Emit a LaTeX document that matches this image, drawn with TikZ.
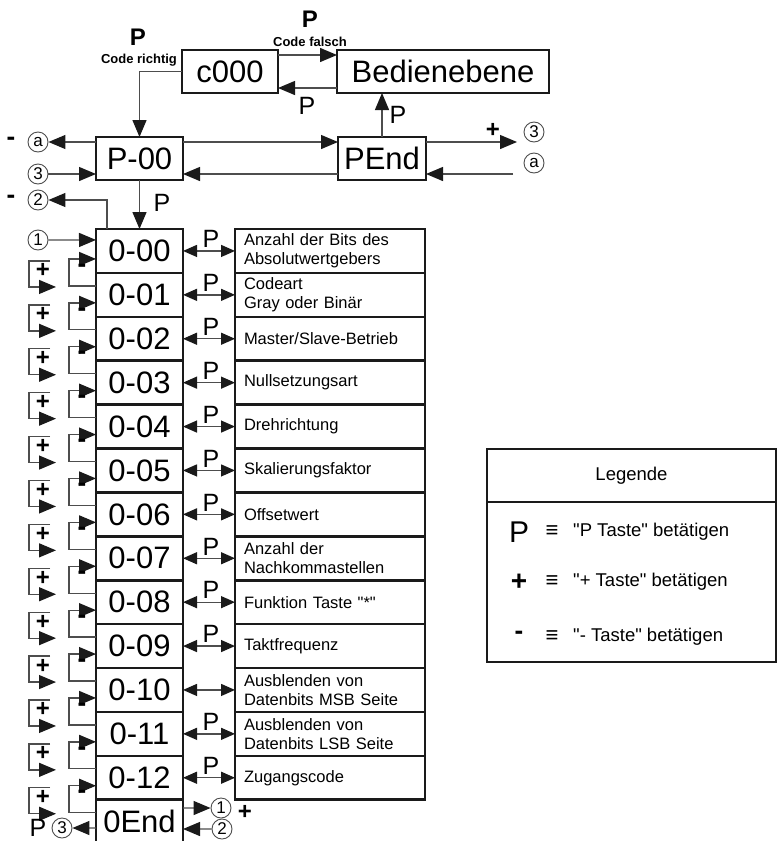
\documentclass[tikz,border=0pt]{standalone}
\usepackage{fontspec}
\setmainfont{Liberation Sans}[Ligatures=TeXOff]
\usetikzlibrary{arrows.meta, positioning, calc}
\definecolor{cline}{HTML}{4D4D4D}
\definecolor{cbox}{HTML}{1A1A1A}
\newcommand{\fsz}[2]{\fontsize{#1}{#2}\selectfont}
\tikzset{
  every picture/.style={x=1pt, y=-1pt},
  box/.style={draw=cbox, line width=2.6pt, minimum height=43pt, inner sep=0pt, outer sep=0pt, font=\fsz{31}{36}},
  item/.style={box, minimum width=87pt, minimum height=43.9pt},
  desc/.style={draw=cbox, line width=2.6pt, minimum width=190pt, minimum height=43.9pt, text width=172pt, align=left, inner sep=0pt, outer sep=0pt, font=\fsz{16.5}{19}},
  conn/.style={draw=cline, line width=1.3pt},
  arr/.style={conn, -{Triangle[length=17pt, width=14pt, color=cbox]}},
  dbl/.style={conn, {Triangle[length=14pt, width=12pt, color=cbox]}-{Triangle[length=14pt, width=12pt, color=cbox]}},
  ring/.style={circle, draw=cline, line width=0.9pt, minimum size=20pt, inner sep=0pt, font=\fsz{17}{20}},
  plab/.style={inner sep=0pt, font=\fsz{25}{30}},
  plabb/.style={inner sep=0pt, font=\bfseries\fsz{24}{28}},
  codelab/.style={inner sep=0pt, font=\bfseries\fsz{13}{15}},
  pmsign/.style={inner sep=0pt, font=\bfseries\fsz{24}{28}},
  minussign/.style={inner sep=0pt, font=\bfseries\fsz{26}{30}},
  legtext/.style={inner sep=0pt, anchor=west, font=\fsz{18.5}{22}},
}

\begin{document}
\begin{tikzpicture}
  \useasboundingbox (0,0) rectangle (777,841);
  % top level
  \node[box, minimum width=96pt] (code) at (230,71.5) {c000};
  \node[box, minimum width=212pt] (bed) at (443,71.5) {Bedienebene};
  \node[box, minimum width=87pt] (p00) at (139.5,158.5) {P-00};
  \node[box, minimum width=88pt] (pend) at (382,158.5) {PEnd};
  \draw[arr] ([yshift=16.5pt]code.east) -- ([yshift=16.5pt]bed.west);
  \draw[arr] ([yshift=-16.5pt]bed.west) -- ([yshift=-16.5pt]code.east);
  \draw[arr] (code.west) -| (p00.north);
  \draw[arr] (pend.north) -- (pend.north |- bed.south);
  \draw[arr] ([yshift=16.5pt]p00.east) -- ([yshift=16.5pt]pend.west);
  \draw[arr] ([yshift=-15.5pt]pend.west) -- ([yshift=-15.5pt]p00.east);
  \node[plabb] at (138,37) {P};
  \node[codelab] at (139,60) {Code richtig};
  \node[plabb] at (310,19) {P};
  \node[codelab] at (310,42) {Code falsch};
  \node[plab] at (307,106) {P};
  \node[plab] at (398,115) {P};
  \node[plab] at (162,203) {P};
  % jumps out of and into the top level
  \node[ring] (aL) at (38,142) {a};
  \node[ring] (c3L) at (38,174) {3};
  \node[ring] (c2L) at (38,200) {2};
  \node[ring] (c1L) at (38,240) {1};
  \node[ring] (c3R) at (534,132) {3};
  \node[ring] (aR) at (534,163) {a};
  \coordinate (plusend) at (517,142);
  \coordinate (astart) at (513,174);
  \node[minussign] at (11,141) {-};
  \node[minussign] at (11,199) {-};
  \node[pmsign] at (493,130) {+};
  \draw[arr] ([yshift=16.5pt]p00.west) -- (aL);
  \draw[arr] (c3L) -- ([yshift=-15.5pt]p00.west);
  \draw[arr] ([yshift=16.5pt]pend.east) -- (plusend);
  \draw[arr] (astart) -- ([yshift=-15.5pt]pend.east);
  % parameter list
  \foreach \t [count=\i from 0] in {0-00,0-01,0-02,0-03,0-04,0-05,0-06,0-07,0-08,0-09,0-10,0-11,0-12,0End}
    \node[item] (r\i) at (139.5, 250.95+43.9*\i) {\t};
  \foreach \t [count=\i from 0] in {{Anzahl der Bits des\\Absolutwertgebers}, {Codeart\\Gray oder Binär}, Master/Slave-Betrieb, Nullsetzungsart, Drehrichtung, Skalierungsfaktor, Offsetwert, {Anzahl der\\Nachkommastellen}, Funktion Taste "*", Taktfrequenz, {Ausblenden von\\Datenbits MSB Seite}, {Ausblenden von\\Datenbits LSB Seite}, Zugangscode}
    \node[desc] (d\i) at (330, 250.95+43.9*\i) {\t};
  \foreach \i in {0,...,12} \draw[dbl] (r\i) -- (d\i);
  \foreach \i in {0,1,2,3,4,5,6,7,8,9,11,12}
    \path (r\i.east) -- (d\i.west) node[plab, midway, above=3pt, xshift=2pt] {P};
  \draw[arr] (p00.south) -- (r0.north);
  \draw[arr] ([xshift=-32.5pt]r0.north) |- (c2L);
  \draw[arr] (c1L) -- ([yshift=11pt]r0.west);
  % + and - keys
  \foreach \i [evaluate=\i as \n using int(\i+1)] in {0,...,12} {
    \draw[arr] ([yshift=9pt]r\n.west) -- ++(-27,0) |- ([yshift=-8pt]r\i.west);
    \draw[arr] ([xshift=-46pt, yshift=-10pt]r\i.west) -- ++(-21,0) |- ([xshift=-40pt, yshift=-36pt]r\i.west);
    \node[pmsign] at ([xshift=-53pt, yshift=-20pt]r\i.west) {+};
    \node[minussign] at ([xshift=-14pt, yshift=-17pt]r\i.west) {-};
  }
  % end of the list
  \node[plab] at (38,828) {P};
  \node[ring] (c3B) at (62,828) {3};
  \node[ring] (c1B) at (221,808) {1};
  \node[ring] (c2B) at (222,829) {2};
  \node[pmsign] at (245,812) {+};
  \draw[arr] ([yshift=-6.35pt]r13.west) -- (c3B);
  \draw[arr] ([yshift=13.65pt]r13.east) -- (c1B);
  \draw[arr] (c2B) -- ([yshift=-7.35pt]r13.east);
  % legend
  \node[draw=cbox, line width=2.3pt, minimum width=289pt, minimum height=53pt, anchor=north west, inner sep=0pt, outer sep=0pt, font=\fsz{18.5}{22}] (leghead) at (487,449) {Legende};
  \node[draw=cbox, line width=2.3pt, minimum width=289pt, minimum height=160pt, anchor=north west, inner sep=0pt, outer sep=0pt] (legbody) at (leghead.south west) {};
  \node[inner sep=0pt, font=\fsz{30}{34}] at (519,532) {P};
  \node[inner sep=0pt, font=\bfseries\fsz{28}{32}] at (519,582) {+};
  \node[minussign] at (519,635) {-};
  \foreach \y in {532,582,637} \node[inner sep=0pt, font=\bfseries\fsz{22}{26}] at (552,\y) {≡};
  \node[legtext] at (573,532) {"P Taste" betätigen};
  \node[legtext] at (573,582) {"+ Taste" betätigen};
  \node[legtext] at (573,637) {"- Taste" betätigen};
\end{tikzpicture}
\end{document}
